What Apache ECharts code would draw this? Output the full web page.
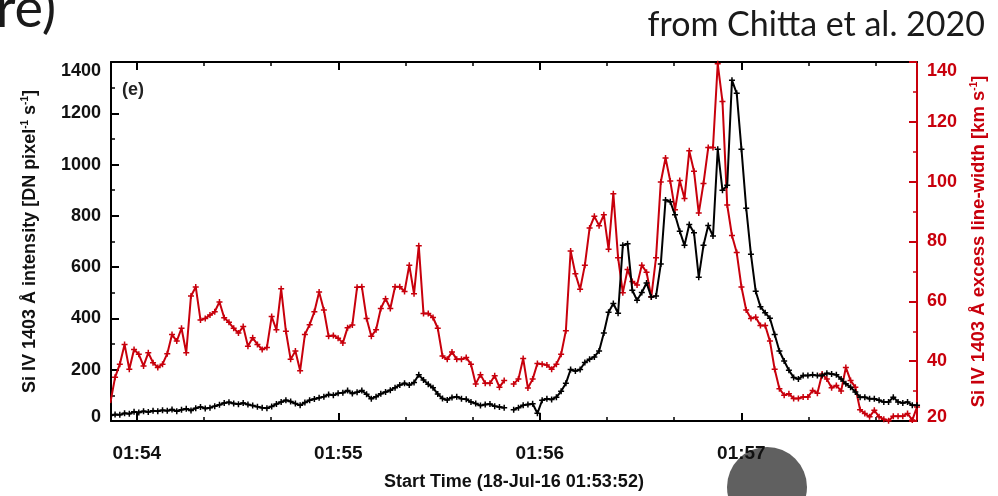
<!DOCTYPE html>
<html>
<head>
<meta charset="utf-8">
<script src="https://cdn.jsdelivr.net/npm/echarts@6/dist/echarts.min.js"></script>
<style>html,body{margin:0;padding:0;background:#fff;}#chart{width:998px;height:496px;}</style>
</head>
<body>
<div id="chart"></div>
<script>
// ---- data ----
// sample times: seconds after 01:53:00 (first sample 01:53:52.1, cadence ~1.413 s)
const startSec = 52.1;
const cadence = 1.413;
const xMajorTicks = [60, 120, 180, 240];           // 01:54 .. 01:57
const xMinorTicks = [80, 100, 140, 160, 200, 220, 260, 280];

// Si IV 1403 intensity [DN pixel^-1 s^-1] (left axis, black)
const intensity = [
  20,25,24,30,28,36,33,38,35,40,
  38,42,40,45,38,44,48,41,50,55,
  49,52,58,63,70,73,68,65,70,64,
  60,56,52,50,57,66,74,81,76,68,
  61,72,81,86,91,95,103,100,108,110,
  119,107,112,119,104,87,95,106,113,120,
  130,140,147,140,150,180,160,143,130,105,
  88,82,92,95,87,85,74,68,60,64,
  66,58,55,52,null,
  44,52,61,64,67,30,81,87,84,93,
  116,147,201,195,201,228,241,250,273,343,
  424,458,420,685,691,510,471,501,538,484,
  487,612,862,855,804,740,685,766,734,561,
  685,762,721,1060,
  900,919,1329,1278,1060,830,650,506,446,422,
  401,337,273,234,198,170,164,177,177,180,
  177,177,186,183,180,164,145,132,113,93,
  93,87,87,81,74,74,93,74,70,74,
  61,61
];

// Si IV 1403 excess line-width [km s^-1] (right axis, red)
const lineWidth = [
  26.0,34.6,39.0,45.6,37.3,43.9,42.3,38.4,42.8,39.5,
  37.9,39.0,42.5,48.9,46.7,51.0,42.8,61.8,64.8,53.8,
  54.3,55.4,56.5,59.8,54.5,53.0,51.0,49.4,51.6,45.0,
  47.8,45.6,43.9,44.6,54.9,50.5,64.2,50.0,40.6,43.4,
  36.8,48.9,52.2,56.5,63.1,
  57.1,48.3,48.6,47.7,46.1,51.2,52.1,64.7,64.9,54.3,
  48.3,50.5,57.6,60.9,57.6,64.9,64.9,63.3,72.1,62.5,
  78.6,55.9,55.9,54.6,51.0,41.7,40.6,43.1,40.6,40.6,
  41.2,39.0,32.4,35.5,32.6,32.6,35.1,31.3,33.5,
  null,
  32.4,34.0,40.9,31.0,34.0,39.2,39.0,38.7,37.3,39.0,
  42.3,50.2,76.8,69.2,64.0,72.1,84.5,88.4,85.3,88.9,
  77.4,96.0,74.6,62.9,70.6,66.6,65.5,72.1,69.7,61.5,
  74.6,99.9,107.9,100.2,90.6,100.4,94.4,110.3,103.5,89.5,
  99.4,111.4,111.4,139.4,
  126.8,92.2,82.0,76.3,64.8,57.1,54.3,54.7,51.9,51.9,
  46.7,37.3,30.8,28.6,29.1,27.5,27.5,28.0,28.0,30.2,
  29.3,35.7,34.0,31.1,31.9,30.0,37.9,33.5,31.3,23.8,
  22.5,21.4,23.6,21.4,20.6,20.1,21.6,21.6,21.6,22.5,
  20.3,24.7
];

const leftTicks = [0, 200, 400, 600, 800, 1000, 1200, 1400];
const rightTicks = [20, 40, 60, 80, 100, 120, 140];

// ---- build ----
const times = intensity.map((_, i) => +(startSec + i * cadence).toFixed(3));
const blackData = intensity.map((v, i) => [times[i], v]);
const redData = lineWidth.map((v, i) => [times[i], v]);

const RED = '#c8000c';
const FONT = 'Liberation Sans, Arial, sans-serif';
const plusSym = 'path://M3,0H5V3H8V5H5V8H3V5H0V3H3Z';

const xMin = 52.3, xMax = 292.3;
function baseX(pos, custom, len, showLabel, showLine) {
  return {
    type: 'value', position: pos, min: xMin, max: xMax,
    axisLine: { show: showLine, onZero: false, lineStyle: { color: '#000', width: 2 } },
    axisTick: { show: true, inside: true, length: len, customValues: custom,
                lineStyle: { color: '#000', width: len > 5 ? 2 : 1.5 } },
    axisLabel: { show: showLabel },
    splitLine: { show: false }
  };
}
const xBottom = baseX('bottom', xMajorTicks, 8, true, true);
xBottom.axisLabel = {
  show: true, customValues: xMajorTicks, margin: 23,
  formatter: v => '01:' + (53 + Math.round(v / 60)),
  fontFamily: FONT, fontWeight: 'bold', fontSize: 19, color: '#111'
};
xBottom.name = 'Start Time (18-Jul-16 01:53:52)';
xBottom.nameLocation = 'middle';
xBottom.nameGap = 52;
xBottom.nameTextStyle = { fontFamily: FONT, fontWeight: 'bold', fontSize: 18, color: '#111' };

function yLabel(color, minVal) {
  return {
    fontFamily: FONT, fontWeight: 'bold', fontSize: 18, color: color, margin: 10,
    verticalAlignMaxLabel: 'top',
    formatter: v => (v === minVal ? '{lo|' + v + '}' : String(v)),
    rich: { lo: { fontFamily: FONT, fontWeight: 'bold', fontSize: 18, color: color, padding: [0, 0, 8, 0] } }
  };
}

const option = {
  animation: false,
  backgroundColor: '#fff',
  grid: { left: 111, right: 81, top: 62, bottom: 71, containLabel: false },
  xAxis: [
    xBottom,
    baseX('bottom', xMinorTicks, 4, false, false),
    baseX('top', xMajorTicks, 8, false, true),
    baseX('top', xMinorTicks, 4, false, false)
  ],
  yAxis: [
    {
      type: 'value', position: 'left', min: leftTicks[0], max: leftTicks[leftTicks.length - 1], interval: 200,
      axisLine: { show: true, lineStyle: { color: '#000', width: 2 } },
      axisTick: { show: true, inside: true, length: 8, lineStyle: { color: '#000', width: 2 } },
      minorTick: { show: true, splitNumber: 2, length: 4, lineStyle: { color: '#000', width: 1.5 } },
      splitLine: { show: false },
      axisLabel: yLabel('#111', leftTicks[0]),
      name: '{n|Si IV 1403 Å intensity [DN pixel}{s|-1}{n| s}{s|-1}{n|]}',
      nameLocation: 'middle', nameRotate: 90, nameGap: 71,
      nameTextStyle: {
        rich: {
          n: { fontFamily: FONT, fontWeight: 'bold', fontSize: 18, color: '#111', lineHeight: 20 },
          s: { fontFamily: FONT, fontWeight: 'bold', fontSize: 10, color: '#111', verticalAlign: 'top', lineHeight: 20, padding: [0, 0, 9, 0] }
        }
      }
    },
    {
      type: 'value', position: 'right', min: rightTicks[0], max: rightTicks[rightTicks.length - 1], interval: 20,
      axisLine: { show: true, lineStyle: { color: RED, width: 2 } },
      axisTick: { show: true, inside: true, length: 8, lineStyle: { color: RED, width: 2 } },
      minorTick: { show: true, splitNumber: 2, length: 4, lineStyle: { color: RED, width: 1.5 } },
      splitLine: { show: false },
      axisLabel: yLabel(RED, rightTicks[0]),
      name: '{n|Si IV 1403 Å excess line-width [km s}{s|-1}{n|]}',
      nameLocation: 'middle', nameRotate: 90, nameGap: 52,
      nameTextStyle: {
        rich: {
          n: { fontFamily: FONT, fontWeight: 'bold', fontSize: 18.5, color: RED, lineHeight: 20 },
          s: { fontFamily: FONT, fontWeight: 'bold', fontSize: 10, color: RED, verticalAlign: 'top', lineHeight: 20, padding: [0, 0, 9, 0] }
        }
      }
    }
  ],
  series: [
    {
      type: 'line', name: 'width', xAxisIndex: 0, yAxisIndex: 1, data: redData,
      symbol: plusSym, symbolSize: 6, showAllSymbol: true,
      itemStyle: { color: RED }, lineStyle: { color: RED, width: 2 },
      connectNulls: false, clip: true, z: 2
    },
    {
      type: 'line', name: 'intensity', xAxisIndex: 0, yAxisIndex: 0, data: blackData,
      symbol: plusSym, symbolSize: 6, showAllSymbol: true,
      itemStyle: { color: '#000' }, lineStyle: { color: '#000', width: 2 },
      connectNulls: false, clip: true, z: 3
    }
  ],
  graphic: [
    { type: 'text', left: 122, top: 81, style: { text: '(e)', fontFamily: FONT, fontWeight: 'bold', fontSize: 18, fill: '#222' } },
    { type: 'text', right: 13, top: 8, style: { text: 'from Chitta et al. 2020', fontFamily: 'Lato, sans-serif', fontSize: 34, fill: '#1a1a1a' } },
    { type: 'text', left: -4, top: -17, style: { text: 're)', fontFamily: 'Lato, sans-serif', fontSize: 54, fill: '#1a1a1a' } },
    { type: 'circle', shape: { cx: 767, cy: 487, r: 40 }, style: { fill: '#606060' }, z: -10 }
  ]
};

const chart = echarts.init(document.getElementById('chart'), null, { renderer: 'canvas' });
chart.setOption(option);
</script>
</body>
</html>
